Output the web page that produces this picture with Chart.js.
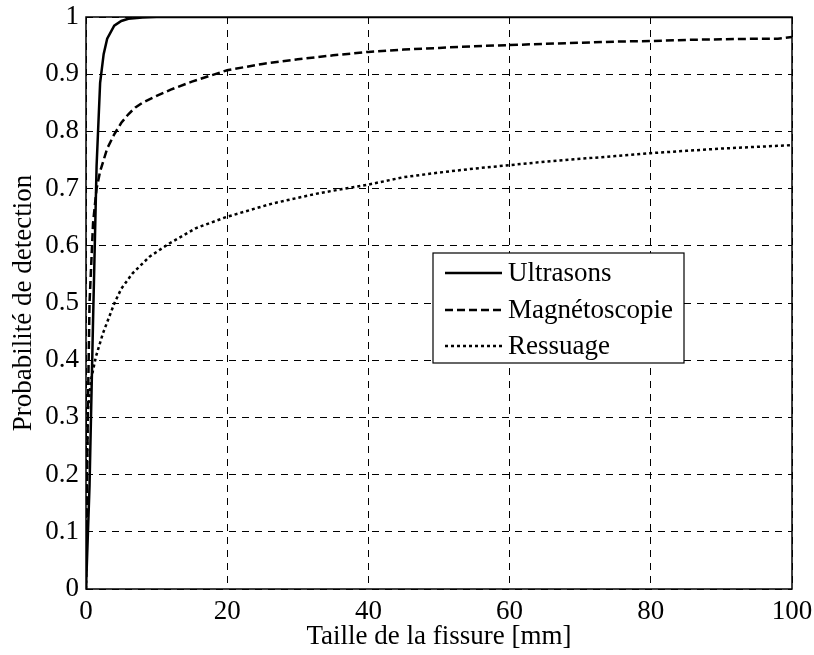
<!DOCTYPE html>
<html lang="fr">
<head>
<meta charset="UTF-8">
<title>Probabilité de detection</title>
<script src="https://cdn.jsdelivr.net/npm/chart.js"></script>
<style>
  html, body { margin: 0; padding: 0; background: #fff; }
  #wrap { width: 814px; height: 655px; }
</style>
</head>
<body>
<div id="wrap"><canvas id="podChart" width="814" height="655"></canvas></div>
<script>
// series: crack size [mm] -> probability of detection
const ultrasonsX = [0, 0.5, 1, 1.5, 2, 2.5, 3, 4, 5, 6, 8, 10, 100];
const ultrasonsY = [0, 0.18, 0.47, 0.74, 0.885, 0.935, 0.962, 0.985, 0.993, 0.997, 0.999, 1, 1];

const magnetoX = [0, 0.25, 0.5, 1, 1.5, 2, 3, 4, 5, 6, 7, 8, 10, 12, 15, 20, 25, 30, 35, 40, 45, 50, 55, 60, 65, 70, 75, 80, 85, 90, 95, 98, 100];
const magnetoY = [0, 0.3, 0.5, 0.64, 0.70, 0.73, 0.77, 0.795, 0.815, 0.83, 0.842, 0.85, 0.862, 0.873, 0.887, 0.907, 0.918, 0.926, 0.933, 0.939, 0.943, 0.946, 0.949, 0.951, 0.953, 0.955, 0.957, 0.958, 0.96, 0.961, 0.962, 0.962, 0.965];

const ressuageX = [0, 0.1, 0.25, 0.7, 1.4, 2.4, 4, 5, 6.6, 9, 11.8, 15.6, 19.8, 26.4, 33, 40, 45, 50, 55, 60, 65, 70, 75, 80, 85, 90, 95, 100];
const ressuageY = [0, 0.2, 0.31, 0.365, 0.406, 0.447, 0.499, 0.525, 0.552, 0.581, 0.604, 0.631, 0.65, 0.674, 0.692, 0.707, 0.72, 0.728, 0.735, 0.741, 0.747, 0.752, 0.757, 0.762, 0.766, 0.770, 0.773, 0.776];

const seriesLabels = ["Ultrasons", "Magnétoscopie", "Ressuage"];
const xTicks = [0, 20, 40, 60, 80, 100];
const yTicks = [0, 0.1, 0.2, 0.3, 0.4, 0.5, 0.6, 0.7, 0.8, 0.9, 1];

const FONT = "'Liberation Serif', 'Times New Roman', serif";
const FSIZE = 27;

function toPoints(xs, ys) {
  return xs.map((x, i) => ({ x: x, y: ys[i] }));
}

// black frame round the plot area (MATLAB style box)
const boxPlugin = {
  id: "box",
  afterDatasetsDraw(chart) {
    const a = chart.chartArea;
    const ctx = chart.ctx;
    ctx.save();
    ctx.strokeStyle = "#000";
    ctx.lineWidth = 1.5;
    ctx.setLineDash([]);
    ctx.strokeRect(a.left, a.top, a.right - a.left, a.bottom - a.top);
    ctx.restore();
  }
};

// legend box drawn inside the axes
const legendBox = {
  id: "legendBox",
  afterDraw(chart) {
    const ctx = chart.ctx;
    const x0 = 433, y0 = 253, w = 251, h = 110;
    const rows = [273, 310, 346];
    ctx.save();
    ctx.fillStyle = "#fff";
    ctx.fillRect(x0, y0, w, h);
    ctx.strokeStyle = "#000";
    ctx.lineWidth = 1.2;
    ctx.setLineDash([]);
    ctx.strokeRect(x0, y0, w, h);
    ctx.font = FSIZE + "px " + FONT;
    ctx.textBaseline = "middle";
    chart.data.datasets.forEach((ds, i) => {
      ctx.strokeStyle = ds.borderColor;
      ctx.lineWidth = ds.borderWidth;
      ctx.setLineDash(ds.borderDash || []);
      ctx.beginPath();
      ctx.moveTo(445, rows[i]);
      ctx.lineTo(502, rows[i]);
      ctx.stroke();
      ctx.setLineDash([]);
      ctx.fillStyle = "#000";
      ctx.fillText(ds.label, 508, rows[i] + 1);
    });
    ctx.restore();
  }
};

const ctx = document.getElementById("podChart").getContext("2d");
new Chart(ctx, {
  type: "scatter",
  data: {
    datasets: [
      {
        label: seriesLabels[0],
        data: toPoints(ultrasonsX, ultrasonsY),
        borderColor: "#000",
        borderWidth: 2.5,
        borderDash: []
      },
      {
        label: seriesLabels[1],
        data: toPoints(magnetoX, magnetoY),
        borderColor: "#000",
        borderWidth: 2.5,
        borderDash: [8, 4]
      },
      {
        label: seriesLabels[2],
        data: toPoints(ressuageX, ressuageY),
        borderColor: "#000",
        borderWidth: 2.5,
        borderDash: [3, 3]
      }
    ]
  },
  options: {
    responsive: false,
    animation: false,
    showLine: true,
    elements: { point: { radius: 0 }, line: { tension: 0 } },
    layout: { padding: { left: 0, top: 17, right: 22, bottom: 0 } },
    plugins: {
      legend: { display: false },
      tooltip: { enabled: false }
    },
    scales: {
      x: {
        type: "linear",
        min: 0,
        max: 100,
        afterBuildTicks(scale) { scale.ticks = xTicks.map(v => ({ value: v })); },
        afterFit(scale) {
          scale.height = 66;
          scale.paddingLeft = 0;
          scale.paddingRight = 0;
        },
        grid: { color: "#000", lineWidth: 1, drawTicks: false },
        border: { display: false, dash: [7, 6] },
        ticks: { color: "#000", padding: 7, font: { family: FONT, size: FSIZE }, maxRotation: 0 },
        title: { display: true, text: "Taille de la fissure [mm]", color: "#000", padding: { top: 0, bottom: 2 }, font: { family: FONT, size: FSIZE } }
      },
      y: {
        type: "linear",
        min: 0,
        max: 1,
        afterBuildTicks(scale) { scale.ticks = yTicks.map(v => ({ value: v })); },
        afterFit(scale) {
          scale.width = 86;
          scale.paddingTop = 0;
          scale.paddingBottom = 0;
        },
        grid: { color: "#000", lineWidth: 1, drawTicks: false },
        border: { display: false, dash: [7, 6] },
        ticks: {
          color: "#000",
          padding: 7,
          font: { family: FONT, size: FSIZE },
          callback: v => String(+Number(v).toFixed(1))
        },
        title: { display: true, text: "Probabilité de detection", color: "#000", padding: { top: 8, bottom: 0 }, font: { family: FONT, size: FSIZE } }
      }
    }
  },
  plugins: [boxPlugin, legendBox]
});
</script>
</body>
</html>
